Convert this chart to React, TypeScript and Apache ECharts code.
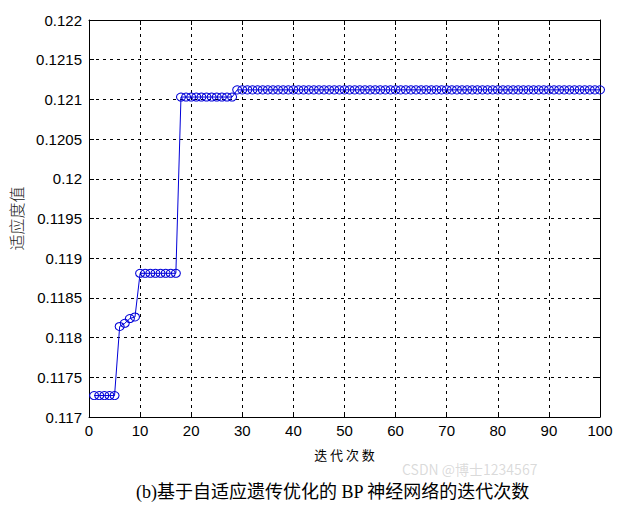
import React, { useEffect, useRef } from "react";
import * as echarts from "echarts";

const iterations: number[] = [
  1, 2, 3, 4, 5, 6, 7, 8, 9, 10,
  11, 12, 13, 14, 15, 16, 17, 18, 19, 20,
  21, 22, 23, 24, 25, 26, 27, 28, 29, 30,
  31, 32, 33, 34, 35, 36, 37, 38, 39, 40,
  41, 42, 43, 44, 45, 46, 47, 48, 49, 50,
  51, 52, 53, 54, 55, 56, 57, 58, 59, 60,
  61, 62, 63, 64, 65, 66, 67, 68, 69, 70,
  71, 72, 73, 74, 75, 76, 77, 78, 79, 80,
  81, 82, 83, 84, 85, 86, 87, 88, 89, 90,
  91, 92, 93, 94, 95, 96, 97, 98, 99, 100,
];

const fitness: number[] = [
  0.11727, 0.11727, 0.11727, 0.11727, 0.11727, 0.11814, 0.11818, 0.11824, 0.11826, 0.11881,
  0.11881, 0.11881, 0.11881, 0.11881, 0.11881, 0.11881, 0.11881, 0.12103, 0.12103, 0.12103,
  0.12103, 0.12103, 0.12103, 0.12103, 0.12103, 0.12103, 0.12103, 0.12103, 0.12112, 0.12112,
  0.12112, 0.12112, 0.12112, 0.12112, 0.12112, 0.12112, 0.12112, 0.12112, 0.12112, 0.12112,
  0.12112, 0.12112, 0.12112, 0.12112, 0.12112, 0.12112, 0.12112, 0.12112, 0.12112, 0.12112,
  0.12112, 0.12112, 0.12112, 0.12112, 0.12112, 0.12112, 0.12112, 0.12112, 0.12112, 0.12112,
  0.12112, 0.12112, 0.12112, 0.12112, 0.12112, 0.12112, 0.12112, 0.12112, 0.12112, 0.12112,
  0.12112, 0.12112, 0.12112, 0.12112, 0.12112, 0.12112, 0.12112, 0.12112, 0.12112, 0.12112,
  0.12112, 0.12112, 0.12112, 0.12112, 0.12112, 0.12112, 0.12112, 0.12112, 0.12112, 0.12112,
  0.12112, 0.12112, 0.12112, 0.12112, 0.12112, 0.12112, 0.12112, 0.12112, 0.12112, 0.12112,
];

const xTitle = "迭 代 次 数";
const yTitle = "适应度值";
const caption = "(b)基于自适应遗传优化的 BP 神经网络的迭代次数";
const watermark = "CSDN @博士1234567";

const X_MIN = 0, X_MAX = 100, X_STEP = 10;
const Y_MIN = 0.117, Y_MAX = 0.122, Y_STEP = 0.0005;

export default function App() {
  const ref = useRef<HTMLDivElement>(null);
  useEffect(() => {
    if (!ref.current) return;
    const chart = echarts.init(ref.current, undefined, { renderer: "svg" });
    const numFont = "Liberation Sans, Arial, sans-serif";
    const tick = { show: true, inside: true, length: 5, lineStyle: { color: "#000" } };
    const line = { show: true, onZero: false, lineStyle: { color: "#000", width: 1 } };
    const split = { show: true, lineStyle: { color: "#000", type: [3, 4], width: 1 } };
    chart.setOption({
      animation: false,
      backgroundColor: "#fff",
      grid: { left: 89, top: 20, right: 32, bottom: 94, containLabel: false },
      xAxis: [
        {
          type: "value", min: X_MIN, max: X_MAX, interval: X_STEP,
          name: xTitle, nameLocation: "middle", nameGap: 31,
          nameTextStyle: { color: "#000", fontSize: 13, fontFamily: "Noto Sans CJK SC" },
          axisLine: line, axisTick: tick, splitLine: split,
          axisLabel: { color: "#000", fontSize: 15, fontFamily: numFont, margin: 6 },
        },
        {
          type: "value", position: "top", min: X_MIN, max: X_MAX, interval: X_STEP,
          axisLine: line, axisTick: tick, splitLine: { show: false }, axisLabel: { show: false },
        },
      ],
      yAxis: [
        {
          type: "value", min: Y_MIN, max: Y_MAX, interval: Y_STEP,
          name: yTitle, nameLocation: "middle", nameGap: 63, nameRotate: 90,
          nameTextStyle: {
            color: "#222", fontSize: 16, fontWeight: 300,
            fontFamily: "Liberation Serif, Noto Sans CJK SC",
          },
          axisLine: line, axisTick: tick, splitLine: split,
          axisLabel: {
            color: "#000", fontSize: 15, fontFamily: numFont, margin: 7,
            formatter: (v: number) => String(parseFloat(v.toFixed(4))),
          },
        },
        {
          type: "value", position: "right", min: Y_MIN, max: Y_MAX, interval: Y_STEP,
          axisLine: line, axisTick: tick, splitLine: { show: false }, axisLabel: { show: false },
        },
      ],
      series: [
        {
          type: "line",
          data: iterations.map((x, i) => [x, fitness[i]]),
          symbol: "circle",
          symbolSize: [9, 8],
          showSymbol: true,
          itemStyle: { color: "transparent", borderColor: "#0000d8", borderWidth: 1 },
          lineStyle: { color: "#0000d8", width: 1 },
        },
      ],
      graphic: [
        {
          type: "text", left: 136, top: 483,
          style: {
            text: caption, fill: "#000", fontSize: 18,
            fontFamily: "Liberation Serif, Noto Sans CJK SC",
          },
        },
        {
          type: "text", left: 402, top: 462,
          style: {
            text: watermark, fill: "rgba(150,150,150,0.35)", fontSize: 14,
            fontFamily: "Noto Sans CJK SC",
          },
        },
      ],
    });
    return () => chart.dispose();
  }, []);
  return (
    <div
      ref={ref}
      style={{ position: "absolute", left: 0, top: 0, width: 632, height: 511, background: "#fff" }}
    />
  );
}
